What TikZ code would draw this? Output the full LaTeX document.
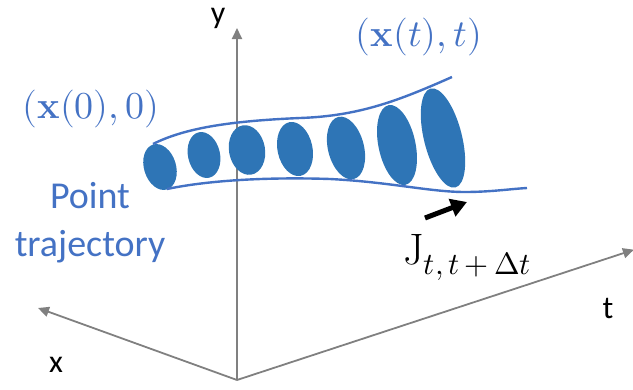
\documentclass[tikz,border=0pt]{standalone}
\usepackage{fontspec}
\usepackage{unicode-math}
\setmathfont{Latin Modern Math}
\setsansfont{Carlito}
\usetikzlibrary{arrows.meta}
\definecolor{tblue}{HTML}{4472C4}
\definecolor{eblue}{HTML}{2E75B6}
\definecolor{axgray}{HTML}{808080}
\begin{document}
\begin{tikzpicture}[x=1pt,y=-1pt,
  axis/.style={draw=axgray,line width=1.8pt,-{Triangle[length=11pt,width=10pt]}},
  tube/.style={draw=tblue,line width=2.4pt},
  blob/.style={fill=eblue},
  axlabel/.style={font=\sffamily\fontsize{32}{38}\selectfont,text=black,inner sep=0pt},
  bluetext/.style={font=\sffamily\fontsize{38}{45}\selectfont,text=tblue,inner sep=0pt},
  mathlabel/.style={font=\fontsize{38}{46}\selectfont,text=tblue,inner sep=0pt},
  jlabel/.style={font=\fontsize{44}{52}\selectfont,text=black,inner sep=0pt},
  pointer/.style={draw=black,line width=5pt,-{Triangle[length=16pt,width=18pt]}}]
\useasboundingbox (0,0) rectangle (633,389);
% axes
\coordinate (O) at (237,380);
\coordinate (ytip) at (237,28);
\coordinate (xtip) at (38,308);
\coordinate (ttip) at (633,250);
\draw[axis] (O) -- (ytip);
\draw[axis] (O) -- (xtip);
\draw[axis,shorten >=-1pt] (O) -- (ttip);
\node[axlabel] (ylab) at (218,18) {y};
\node[axlabel] (xlab) at (56,365) {x};
\node[axlabel] (tlab) at (608,308) {t};
% ellipses
\fill[blob,rotate around={17:(160,167)}] (160,167) ellipse [x radius=16pt,y radius=23.5pt];
\fill[blob,rotate around={13:(204,155)}] (204,155) ellipse [x radius=16pt,y radius=23.3pt];
\fill[blob,rotate around={10:(247,150)}] (247,150) ellipse [x radius=18pt,y radius=25pt];
\fill[blob,rotate around={12:(295,149)}] (295,149) ellipse [x radius=17.5pt,y radius=27.4pt];
\fill[blob,rotate around={14:(346,148)}] (346,148) ellipse [x radius=18pt,y radius=32pt];
\fill[blob,rotate around={12:(397,145)}] (397,145) ellipse [x radius=18.5pt,y radius=40.7pt];
\fill[blob,rotate around={14:(443,138)}] (443,138) ellipse [x radius=19pt,y radius=51pt];
% tube
\draw[tube] (153,144) .. controls (185,128) and (230,121) .. (300,118)
  .. controls (360,116) and (400,100) .. (452,77);
\draw[tube] (167,189) .. controls (210,180) and (270,177) .. (330,179)
  .. controls (390,182) and (430,192) .. (465,192)
  .. controls (490,192) and (510,189) .. (527,188);
% labels
\node[mathlabel] (start) at (91,109) {$(\mathbf{x}(0),0)$};
\node[mathlabel] (end) at (419,37) {$(\mathbf{x}(t),t)$};
\node[bluetext,anchor=base] (pt1) at (90,208) {Point};
\node[bluetext,anchor=base] (pt2) at (90,256) {trajectory};
\node[jlabel,anchor=base west] (J) at (403,264) {$\mathrm{J}_{t,\,t\,+\,\Delta t}$};
\coordinate (arrS) at (425,218);
\coordinate (arrE) at (467,202);
\draw[pointer] (arrS) -- (arrE);
\end{tikzpicture}
\end{document}
